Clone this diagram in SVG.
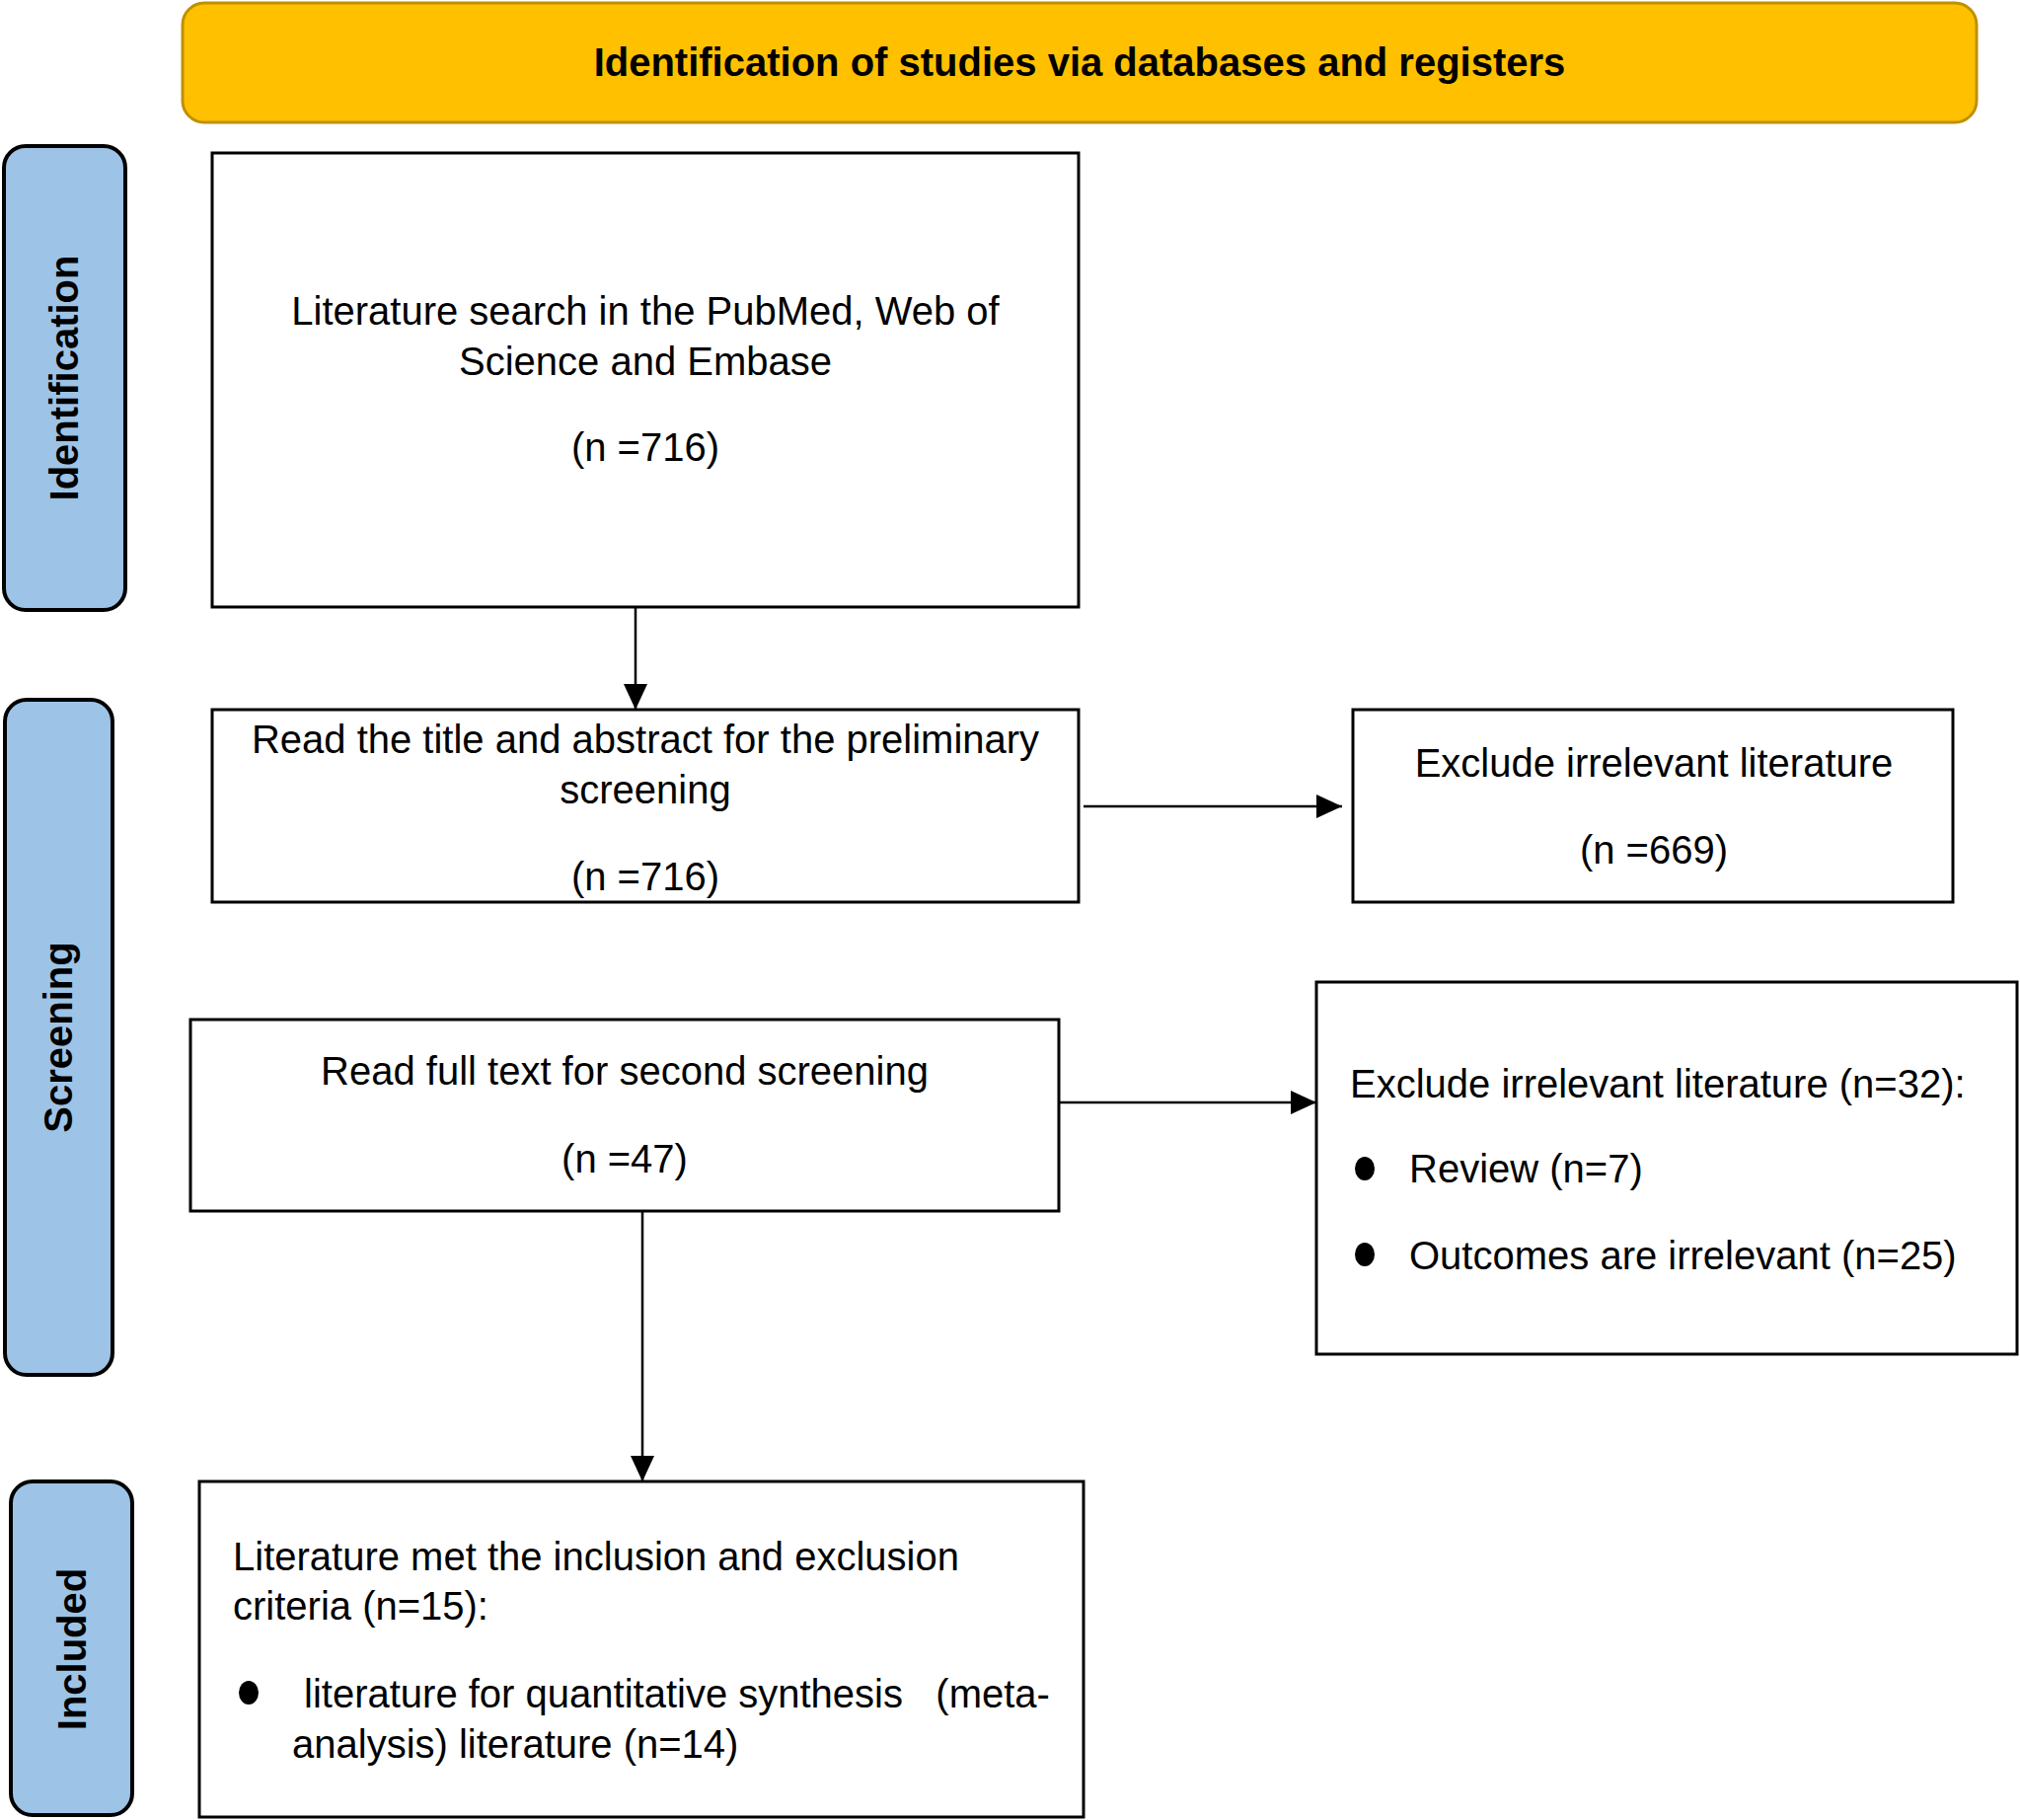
<svg xmlns="http://www.w3.org/2000/svg" width="2047" height="1844" viewBox="0 0 2047 1844">
<style>
text{font-family:"Liberation Sans",Arial,sans-serif;fill:#000}
.t{font-size:40px}
.c{text-anchor:middle}
.b{font-weight:bold}
.box{fill:#fff;stroke:#000;stroke-width:3}
.side{fill:#9DC3E6;stroke:#000;stroke-width:4}
.con{stroke:#000;stroke-width:2.5;fill:none;marker-end:url(#ah)}
</style>
<defs>
<marker id="ah" markerUnits="userSpaceOnUse" markerWidth="26" markerHeight="24" refX="26" refY="12" orient="auto">
<path d="M0,0 L26,12 L0,24 z" fill="#000"/>
</marker>
</defs>
<rect width="2047" height="1844" fill="#fff"/>

<g id="header">
<rect x="185" y="3" width="1818" height="121" rx="22" fill="#FFC000" stroke="#BF9000" stroke-width="3"/>
<text class="t b c" x="1094" y="77">Identification of studies via databases and registers</text>
</g>

<g id="side-identification">
<rect class="side" x="4" y="148" width="123" height="470" rx="22"/>
<text class="t b c" transform="translate(79,383) rotate(-90)">Identification</text>
</g>
<g id="side-screening">
<rect class="side" x="5" y="709" width="109" height="684" rx="22"/>
<text class="t b c" transform="translate(73,1051) rotate(-90)">Screening</text>
</g>
<g id="side-included">
<rect class="side" x="11" y="1501" width="123" height="338" rx="22"/>
<text class="t b c" transform="translate(87,1671) rotate(-90)">Included</text>
</g>

<g id="connectors">
<line class="con" x1="644" y1="615" x2="644" y2="719"/>
<line class="con" x1="1098" y1="817" x2="1360" y2="817"/>
<line class="con" x1="1073" y1="1117" x2="1334" y2="1117"/>
<line class="con" x1="651" y1="1227" x2="651" y2="1501"/>
</g>

<g id="search">
<rect class="box" x="215" y="155" width="878" height="460"/>
<text class="t c" x="654" y="329">Literature search in the PubMed, Web of</text>
<text class="t c" x="654" y="380">Science and Embase</text>
<text class="t c" x="654" y="467">(n =716)</text>
</g>

<g id="title-abstract">
<rect class="box" x="215" y="719" width="878" height="195"/>
<text class="t c" x="654" y="763">Read the title and abstract for the preliminary</text>
<text class="t c" x="654" y="814">screening</text>
<text class="t c" x="654" y="902">(n =716)</text>
</g>

<g id="exclude-1">
<rect class="box" x="1371" y="719" width="608" height="195"/>
<text class="t c" x="1676" y="787">Exclude irrelevant literature</text>
<text class="t c" x="1676" y="875">(n =669)</text>
</g>

<g id="full-text">
<rect class="box" x="193" y="1033" width="880" height="194"/>
<text class="t c" x="633" y="1099">Read full text for second screening</text>
<text class="t c" x="633" y="1188">(n =47)</text>
</g>

<g id="exclude-2">
<rect class="box" x="1334" y="995" width="710" height="377"/>
<text class="t" x="1368" y="1112">Exclude irrelevant literature (n=32):</text>
<ellipse cx="1383" cy="1184" rx="10" ry="12" fill="#000"/>
<text class="t" x="1428" y="1198">Review (n=7)</text>
<ellipse cx="1383" cy="1271" rx="10" ry="12" fill="#000"/>
<text class="t" x="1428" y="1286">Outcomes are irrelevant (n=25)</text>
</g>

<g id="included">
<rect class="box" x="202" y="1501" width="896" height="340"/>
<text class="t" x="236" y="1591">Literature met the inclusion and exclusion</text>
<text class="t" x="236" y="1641">criteria (n=15):</text>
<ellipse cx="252" cy="1715" rx="10" ry="12" fill="#000"/>
<text class="t" x="308" y="1730" xml:space="preserve">literature for quantitative synthesis   (meta-</text>
<text class="t" x="296" y="1781">analysis) literature (n=14)</text>
</g>
</svg>
